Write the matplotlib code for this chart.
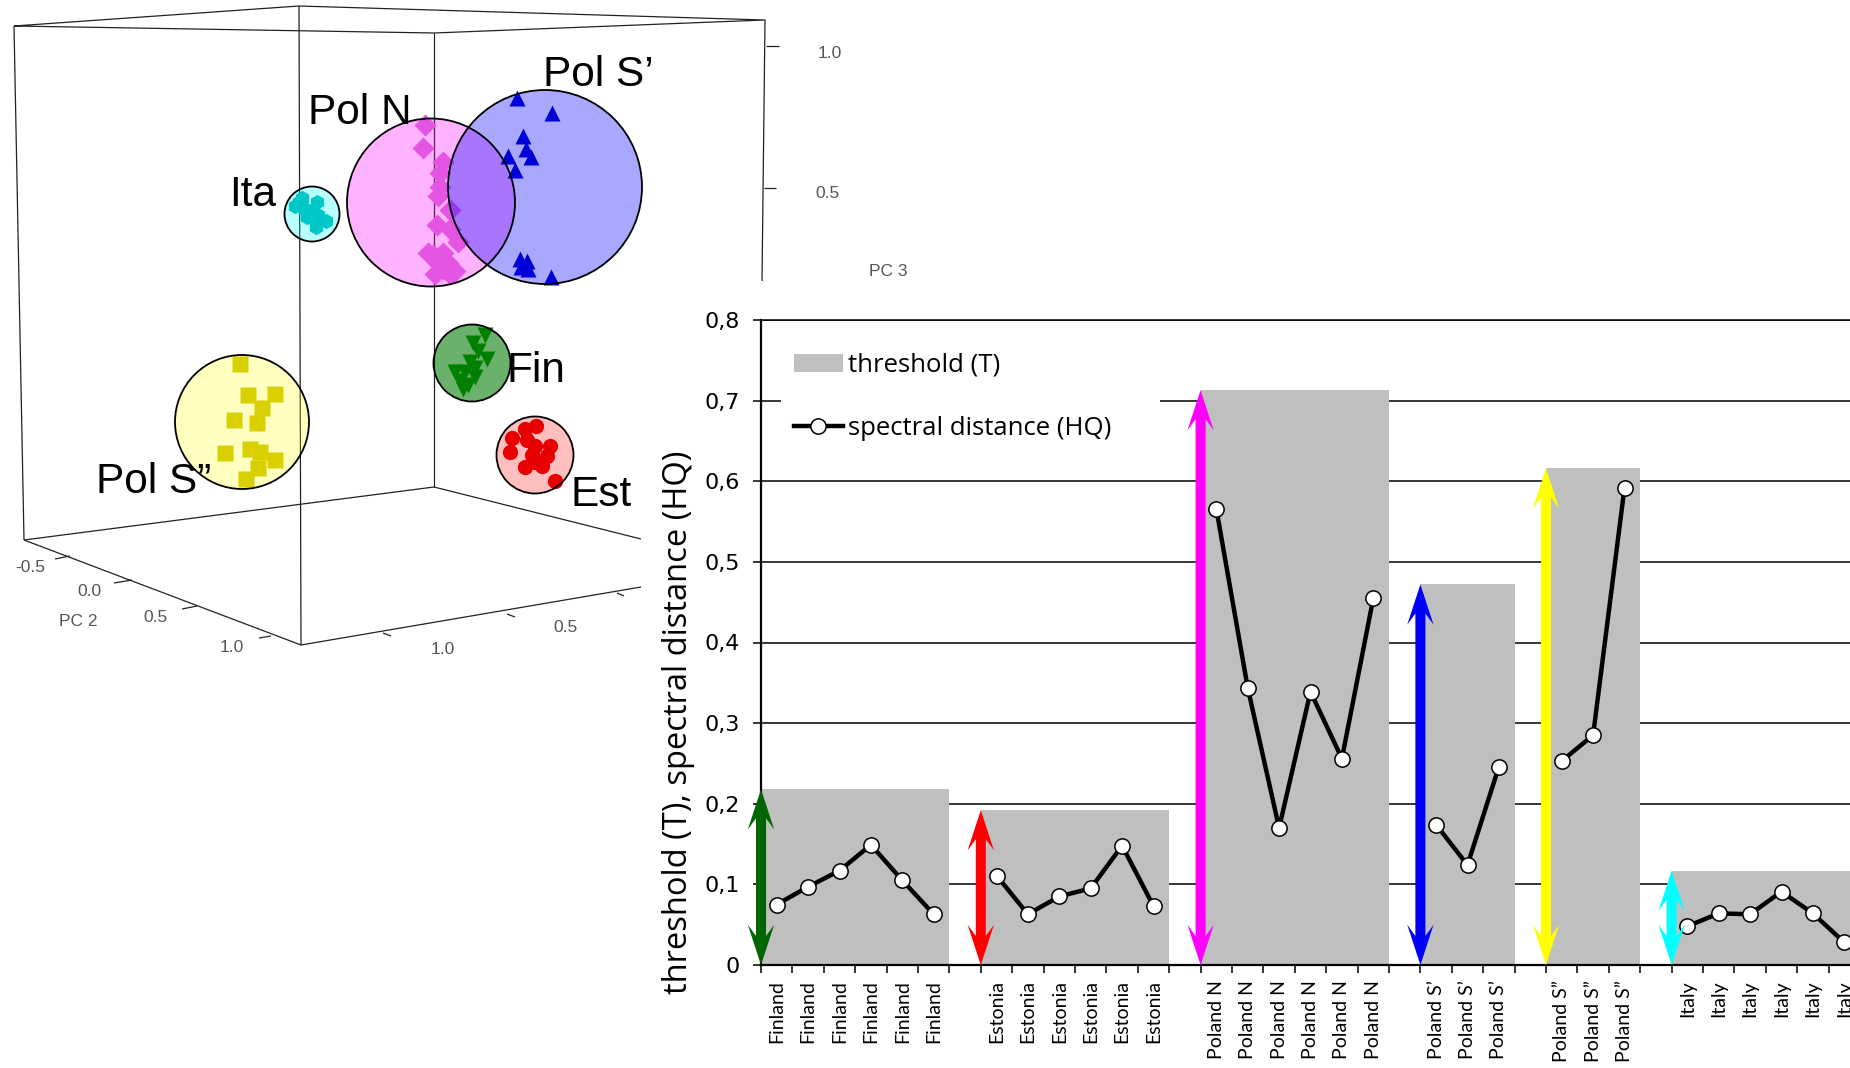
"""
PCA score plot (left) and threshold / spectral distance per origin (right)
"""
#------------------------------------------------------------------------------
# Libraries
#------------------------------------------------------------------------------

import numpy as np
import matplotlib.pyplot as plt
from matplotlib.lines import Line2D
from matplotlib.patches import Ellipse, Patch, Polygon, Rectangle

#------------------------------------------------------------------------------
# Data - bar chart
#------------------------------------------------------------------------------

origins = ['Finland', 'Estonia', 'Poland N', 'Poland S\u2019', 'Poland S\u201d', 'Italy']
thresholds = [0.218, 0.192, 0.713, 0.472, 0.616, 0.117]
arrow_colors = ['#006400', '#ff0000', '#ff00ff', '#0000ff', '#ffff00', '#00ffff']

hq_finland = [0.075, 0.097, 0.117, 0.149, 0.105, 0.063]
hq_estonia = [0.111, 0.063, 0.085, 0.095, 0.148, 0.073]
hq_poland_n = [0.566, 0.344, 0.170, 0.339, 0.256, 0.455]
hq_poland_s1 = [0.174, 0.124, 0.246]
hq_poland_s2 = [0.253, 0.285, 0.592]
hq_italy = [0.048, 0.064, 0.063, 0.091, 0.064, 0.028]
hq_groups = [hq_finland, hq_estonia, hq_poland_n, hq_poland_s1, hq_poland_s2, hq_italy]

y_ticks = [0, 0.1, 0.2, 0.3, 0.4, 0.5, 0.6, 0.7, 0.8]
y_tick_labels = ['0', '0,1', '0,2', '0,3', '0,4', '0,5', '0,6', '0,7', '0,8']

#------------------------------------------------------------------------------
# Data - PCA picture, read off in picture pixels
#------------------------------------------------------------------------------

fin_x = [485, 473, 478, 487, 470, 475, 455, 465, 475, 460, 468, 463]
fin_y = [335, 343, 351, 359, 362, 368, 372, 372, 377, 381, 385, 389]
est_x = [536, 525, 512, 527, 535, 550, 510, 532, 547, 535, 542, 525, 555]
est_y = [426, 429, 438, 440, 446, 446, 452, 455, 456, 462, 466, 467, 481]
poln_x = [425, 423, 443, 440, 440, 438, 450, 437, 450, 458, 433, 443, 438, 448, 435, 450, 443, 455, 428]
poln_y = [125, 148, 162, 173, 187, 196, 210, 225, 229, 242, 255, 253, 263, 263, 274, 274, 269, 271, 253]
pols1_x = [517, 552, 523, 526, 531, 508, 515, 520, 527, 521, 528, 551]
pols1_y = [98, 113, 136, 149, 157, 156, 170, 259, 261, 267, 269, 277]
pols2_x = [240, 248, 275, 262, 234, 257, 225, 250, 260, 275, 258, 246]
pols2_y = [364, 395, 394, 408, 420, 423, 453, 449, 452, 460, 468, 479]
ita_x = [302, 295, 304, 317, 311, 318, 326, 316, 307, 299]
ita_y = [198, 206, 208, 202, 213, 215, 221, 227, 217, 202]

# box edges and tick marks of the 3D plot
frame_lines = [
    [(14, 26), (299, 6), (765, 20), (434, 33), (14, 26)],
    [(14, 26), (24, 540)], [(299, 6), (301, 645)], [(434, 33), (434, 487)], [(765, 20), (762, 281)],
    [(24, 540), (434, 487), (641, 539)], [(24, 540), (301, 645), (641, 587)],
    [(766, 46), (779, 46)], [(764, 188), (776, 188)],
    [(55, 559), (70, 556)], [(114, 583), (132, 580)], [(182, 609), (197, 606)], [(259, 638), (271, 636)],
    [(383, 633), (391, 636)], [(507, 614), (515, 617)], [(617, 593), (624, 596)],
]
pc_texts = ['-0.5', '0.0', '0.5', '1.0', 'PC 2', '1.0', '0.5', '1.0', '0.5', 'PC 3']
pc_text_x = [30, 89, 155, 232, 78, 443, 565, 830, 828, 888]
pc_text_y = [568, 591, 618, 647, 621, 650, 628, 54, 194, 271]

group_names = ['Pol N', 'Pol S\u2019', 'Ita', 'Fin', 'Est', 'Pol S\u201d']
group_name_x = [308, 543, 229, 506, 571, 96]
group_name_y = [124, 86, 206, 382, 506, 493]

#------------------------------------------------------------------------------
# Figure
#------------------------------------------------------------------------------

W, H = 1850, 1068
fig = plt.figure(figsize=(W / 100, H / 100), dpi=100, facecolor='white')

#------------------------------------------------------------------------------
# Left panel, in pixel coordinates
#------------------------------------------------------------------------------

ax3d = fig.add_axes([0, 0, 1, 1], zorder=1)
ax3d.set_xlim(0, W)
ax3d.set_ylim(H, 0)
ax3d.axis('off')

for seg in frame_lines:
    xs, ys = zip(*seg)
    ax3d.plot(xs, ys, color='#222222', lw=0.9, solid_capstyle='butt', zorder=1)

for t, x, y in zip(pc_texts, pc_text_x, pc_text_y):
    ax3d.text(x, y, t, fontsize=12.5, color='#555555', family='Liberation Sans', ha='center', va='center')

def blob(cx, cy, d, color, alpha, z):
    ax3d.add_patch(Ellipse((cx, cy), d, d, facecolor=color, alpha=alpha, edgecolor='none', zorder=z))
    ax3d.add_patch(Ellipse((cx, cy), d, d, facecolor='none', edgecolor='black', lw=1.3, zorder=8))

blob(431, 202.5, 168, '#ff00ff', 0.30, 2)
ax3d.plot(poln_x, poln_y, 'D', ms=11, color='#e455e4', mec='none', zorder=3)
blob(545, 187, 194, '#0000ff', 0.34, 4)
ax3d.plot(pols1_x, pols1_y, '^', ms=11, color='#0000d8', mec='none', zorder=5)

blob(312, 214, 55, '#00ffff', 0.27, 2)
ax3d.plot(ita_x, ita_y, 'h', ms=11, color='#00c8c8', mec='none', zorder=3)
blob(472, 363, 77, '#007a00', 0.58, 2)
ax3d.plot(fin_x, fin_y, 'v', ms=12, color='#008000', mec='none', zorder=3)
blob(535, 455, 77, '#ff0000', 0.25, 2)
ax3d.plot(est_x, est_y, 'o', ms=11, color='#e60000', mec='none', zorder=3)
blob(242, 422, 134, '#ffff00', 0.25, 2)
ax3d.plot(pols2_x, pols2_y, 's', ms=11, color='#d8d000', mec='none', zorder=3)

for t, x, y in zip(group_names, group_name_x, group_name_y):
    ax3d.text(x, y, t, fontsize=30.5, color='black', family='Liberation Sans', ha='left', va='baseline', zorder=9)

#------------------------------------------------------------------------------
# Right panel
#------------------------------------------------------------------------------

left, bottom, top = 761, 965, 320
step = 31.4

ax = fig.add_axes([left / W, (H - bottom) / H, (W - left) / W, (bottom - top) / H], zorder=2)
ax.patch.set_alpha(0)
ax.set_axisbelow(True)

labels = []
start = 0
for name, t, hq, c in zip(origins, thresholds, hq_groups, arrow_colors):
    n = len(hq)
    xc = np.arange(n) + start + 0.5
    ax.bar(xc, [t] * n, width=1, color='#bfbfbf', zorder=1)
    ax.plot(xc, hq, '-o', color='black', lw=3.2, ms=11, mfc='white', mec='black', mew=1.1, zorder=3)

    # double headed arrow on the left edge of the group
    hw, hl, notch, sw = 0.42, 0.05, 0.014, 0.16
    pts = [(start, t), (start + hw, t - hl), (start + sw, t - hl + notch),
           (start + sw, hl - notch), (start + hw, hl), (start, 0),
           (start - hw, hl), (start - sw, hl - notch),
           (start - sw, t - hl + notch), (start - hw, t - hl)]
    ax.add_patch(Polygon(pts, closed=True, facecolor=c, edgecolor='none', zorder=4, clip_on=False))

    labels += [name] * n + ['']
    start += n + 1

ax.add_patch(Rectangle((0.64, 0.645), 12.06, 0.13, facecolor='white', edgecolor='none', zorder=0.8))

ax.yaxis.grid(True, color='black', lw=1.1)
ax.set_yticks(y_ticks)
ax.set_yticklabels(y_tick_labels, fontsize=16, family='DejaVu Sans')
ax.tick_params(axis='y', length=6, width=1.1, pad=9)

ax.set_xticks(np.arange(0, len(labels) + 1))
ax.set_xticklabels([])
ax.set_xticks(np.arange(len(labels)) + 0.5, minor=True)
ax.set_xticklabels(labels, minor=True, rotation=90, fontsize=14, family='Lato', va='top', ha='center')
ax.tick_params(axis='x', which='major', length=6, width=1.1)
ax.tick_params(axis='x', which='minor', length=0, pad=11)

# ticks run past the picture edge, so the limits go last
ax.set_xlim(0, (W - left) / step)
ax.set_ylim(0, 0.8)

ax.spines['right'].set_visible(False)
ax.spines['top'].set_linewidth(1.1)
ax.spines['left'].set_linewidth(1.6)
ax.spines['bottom'].set_linewidth(1.6)

ax.set_ylabel('threshold (T), spectral distance (HQ)', fontsize=23.5, family='Open Sans')
ax.yaxis.set_label_coords((695 - left) / (W - left), (bottom - 722) / (bottom - top))

handles = [Patch(facecolor='#bfbfbf', edgecolor='none'),
           Line2D([0], [0], color='black', lw=3.2, marker='o', ms=11, mfc='white', mec='black', mew=1.1)]
ax.legend(handles, ['threshold (T)', 'spectral distance (HQ)'],
          loc='upper left', bbox_to_anchor=(786 / W, (H - 345) / H), bbox_transform=fig.transFigure,
          frameon=False, prop={'family': 'Open Sans', 'size': 18.5},
          handlelength=1.9, handleheight=0.7, handletextpad=0.2, labelspacing=1.5, borderpad=0.3, borderaxespad=0)

plt.savefig('out.png', dpi=100)
